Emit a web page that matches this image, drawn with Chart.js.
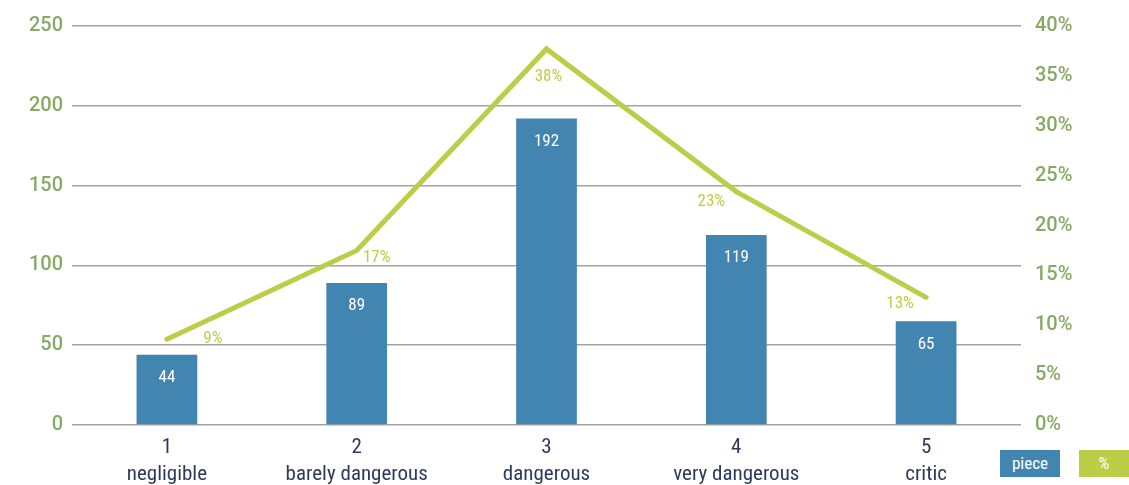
<!DOCTYPE html>
<html lang="en">
<head>
  <meta charset="UTF-8" />
  <title>Danger levels</title>
  <style>
    body {
      margin: 0;
      background: #ffffff;
      font-family: Roboto, sans-serif;
    }
    #wrap {
      position: relative;
      width: 1129px;
      height: 485px;
    }
    .key {
      position: absolute;
      top: 450px;
      height: 27px;
      line-height: 27px;
      color: #ffffff;
      text-align: center;
      font-family: "Liberation Sans Narrow", "Roboto Condensed", "DejaVu Sans Condensed", Roboto, sans-serif;
      font-size: 17px;
    }
  </style>
</head>
<body>
  <div id="wrap">
    <canvas id="chart" width="1129" height="485"></canvas>
    <div class="key" style="left:1000px;width:60px;background:#4285b0;">piece</div>
    <div class="key" style="left:1079px;width:50px;background:#bccd47;">%</div>
  </div>

  <script src="https://cdn.jsdelivr.net/npm/chart.js"></script>
  <script>
    const levels = ["1", "2", "3", "4", "5"];
    const levelNames = ["negligible", "barely dangerous", "dangerous", "very dangerous", "critic"];
    const pieces = [44, 89, 192, 119, 65];
    const shares = [8.6, 17.5, 37.7, 23.4, 12.8];
    const shareLabels = ["9%", "17%", "38%", "23%", "13%"];

    const narrow = '"Liberation Sans Narrow", "Roboto Condensed", "DejaVu Sans Condensed", Roboto, sans-serif';

    // label offsets around the line points (dx, dy)
    const shareOffsets = [[46, 0], [20, 7], [2, 28], [-25, 10], [-26, 6]];

    const valueLabels = {
      id: "valueLabels",
      afterDatasetsDraw(chart) {
        const ctx = chart.ctx;
        ctx.save();
        ctx.textAlign = "center";
        ctx.textBaseline = "middle";

        ctx.font = "17px " + narrow;
        ctx.fillStyle = "#ffffff";
        chart.getDatasetMeta(0).data.forEach((bar, i) => {
          ctx.fillText(String(pieces[i]), bar.x, bar.y + 23);
        });

        ctx.font = "17px " + narrow;
        ctx.fillStyle = "#bccd47";
        chart.getDatasetMeta(1).data.forEach((pt, i) => {
          ctx.fillText(shareLabels[i], pt.x + shareOffsets[i][0], pt.y + shareOffsets[i][1]);
        });
        ctx.restore();
      }
    };

    new Chart(document.getElementById("chart"), {
      type: "bar",
      data: {
        labels: levels.map((l, i) => [l, levelNames[i]]),
        datasets: [
          {
            label: "piece",
            data: pieces,
            backgroundColor: "#4285b0",
            yAxisID: "y",
            order: 1,
            barPercentage: 0.64,
            categoryPercentage: 0.5
          },
          {
            type: "line",
            label: "%",
            data: shares,
            borderColor: "#bccd47",
            borderWidth: 5,
            borderCapStyle: "round",
            borderJoinStyle: "miter",
            pointRadius: 0,
            tension: 0,
            yAxisID: "y2",
            order: 0
          }
        ]
      },
      options: {
        responsive: false,
        animation: false,
        layout: { padding: { top: 22, bottom: 0, left: 0, right: 0 } },
        plugins: {
          legend: { display: false },
          tooltip: { enabled: false }
        },
        scales: {
          x: {
            grid: { display: false },
            border: { display: false },
            ticks: {
              color: "#2e3a5c",
              padding: 2,
              font: { family: narrow, size: 21, lineHeight: 1.25 },
              maxRotation: 0
            },
            afterFit(scale) { scale.height = 60; }
          },
          y: {
            position: "left",
            min: 0,
            max: 250,
            ticks: {
              stepSize: 50,
              color: "#86aa64",
              padding: 9,
              font: { family: "Roboto", size: 20, weight: 500 }
            },
            grid: { color: "#a3a3a3", lineWidth: 1.5, drawTicks: false },
            border: { display: false },
            afterFit(scale) { scale.width = 72; }
          },
          y2: {
            position: "right",
            min: 0,
            max: 40,
            ticks: {
              stepSize: 5,
              color: "#86aa64",
              padding: 14,
              font: { family: "Roboto", size: 20, weight: 500 },
              callback: v => v + "%"
            },
            grid: { display: false, drawTicks: false },
            border: { display: false },
            afterFit(scale) { scale.width = 108; }
          }
        }
      },
      plugins: [valueLabels]
    });
  </script>
</body>
</html>
